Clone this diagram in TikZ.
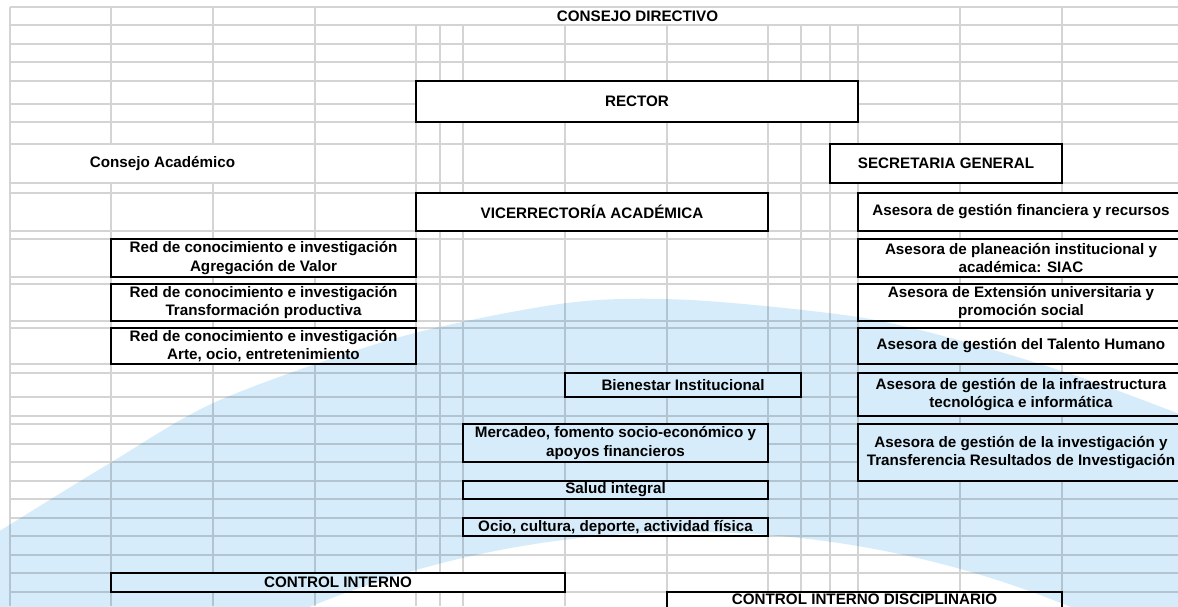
\documentclass[tikz,border=0pt]{standalone}
\usepackage{fontspec}
\setmainfont{Liberation Sans}
\usepackage{tikz}
\definecolor{arcblue}{RGB}{214,236,250}
\definecolor{gridgray}{RGB}{212,212,212}

\begin{document}
\begin{tikzpicture}[x=1pt,y=-1pt,
	cell/.style={draw=black, line width=1.8pt, fill=white, inner sep=0pt, align=center,
		font=\bfseries\fontsize{15.2}{18.5}\selectfont},
	caption/.style={inner sep=0pt, font=\bfseries\fontsize{15.2}{18.5}\selectfont},
	gridline/.style={gridgray, line width=1.2pt}]
	\useasboundingbox (0,0) rectangle (1178,606);
	\begin{scope}
	\clip (0,0) rectangle (1178,606);
	\fill[white] (0,0) rectangle (1178,606);
	% sheet grid
	\foreach \y in {7,25,44,62,81,104,122,144,183,193,231,239,277,284,321,328,364,373,397,416,424,444,462,481,499,518,536,555,573,592}
		\draw[gridline] (10,\y) -- (1178,\y);
	\foreach \x in {10,315,960,1062}
		\draw[gridline] (\x,7) -- (\x,606);
	\foreach \x in {111,213} {
		\draw[gridline] (\x,7) -- (\x,144);
		\draw[gridline] (\x,183) -- (\x,606);
	}
	\foreach \x in {416,440,463,565,667,768,801,830,858}
		\draw[gridline] (\x,25) -- (\x,606);

	\node[caption] (consdir) at (637.5,16) {CONSEJO DIRECTIVO};
	\node[caption] (consacad) at (162.5,163.5) {Consejo Académico};
	\node[cell, minimum width=442pt, minimum height=41pt] (rector) at (637,101.5) {RECTOR};
	\node[cell, minimum width=232pt, minimum height=39pt] (secgen) at (946,163.5) {SECRETARIA GENERAL};
	\node[cell, minimum width=352pt, minimum height=38pt] (vicerr) at (592,212) {VICERRECTORÍA ACADÉMICA};

	\node[cell, minimum width=305pt, minimum height=38pt] (redagr) at (263.5,258) {Red de conocimiento e investigación\\Agregación de Valor};
	\node[cell, minimum width=305pt, minimum height=37pt] (redtrans) at (263.5,302.5) {Red de conocimiento e investigación\\Transformación productiva};
	\node[cell, minimum width=305pt, minimum height=36pt] (redarte) at (263.5,346) {Red de conocimiento e investigación\\Arte, ocio, entretenimiento};

	\node[cell, minimum width=326pt, minimum height=38pt] (asefin) at (1021,212) {Asesora de gestión financiera y recursos};
	\node[cell, minimum width=326pt, minimum height=38pt] (aseplan) at (1021,258) {Asesora de planeación institucional y\\académica: SIAC};
	\node[cell, minimum width=326pt, minimum height=37pt] (aseext) at (1021,302.5) {Asesora de Extensión universitaria y\\promoción social};
	\node[cell, minimum width=326pt, minimum height=36pt] (asetal) at (1021,346) {Asesora de gestión del Talento Humano};
	\node[cell, minimum width=326pt, minimum height=43pt] (aseinf) at (1021,394.5) {Asesora de gestión de la infraestructura\\tecnológica e informática};
	\node[cell, minimum width=326pt, minimum height=57pt] (aseinv) at (1021,452.5) {Asesora de gestión de la investigación y\\Transferencia Resultados de Investigación};

	\node[cell, minimum width=236pt, minimum height=24pt] (bienestar) at (683,385) {Bienestar Institucional};
	\node[cell, minimum width=305pt, minimum height=38pt] (mercadeo) at (615.5,443) {Mercadeo, fomento socio-económico y\\apoyos financieros};
	\node[cell, minimum width=305pt, minimum height=18pt] (salud) at (615.5,490) {Salud integral};
	\node[cell, minimum width=305pt, minimum height=18pt] (ocio) at (615.5,527) {Ocio, cultura, deporte, actividad física};

	\node[cell, minimum width=454pt, minimum height=19pt] (ctrlint) at (338,582.5) {CONTROL INTERNO};
	\node[cell, minimum width=395pt, minimum height=18pt, text depth=4pt] (ctrldisc) at (864.5,601) {CONTROL INTERNO DISCIPLINARIO};

	% light blue arch laid over the sheet
	\begin{scope}[blend mode=multiply]
	\fill[arcblue, even odd rule] plot[smooth] coordinates {(-10,537) (110,463) (220,400) (400,337) (567,303) (690,300) (858,317) (969,343) (1080,377) (1190,418)}
		-- (1190,620) -- (-10,620) -- cycle
		(690,1532) circle[radius=1000];
	\end{scope}
	\end{scope}
\end{tikzpicture}
\end{document}
